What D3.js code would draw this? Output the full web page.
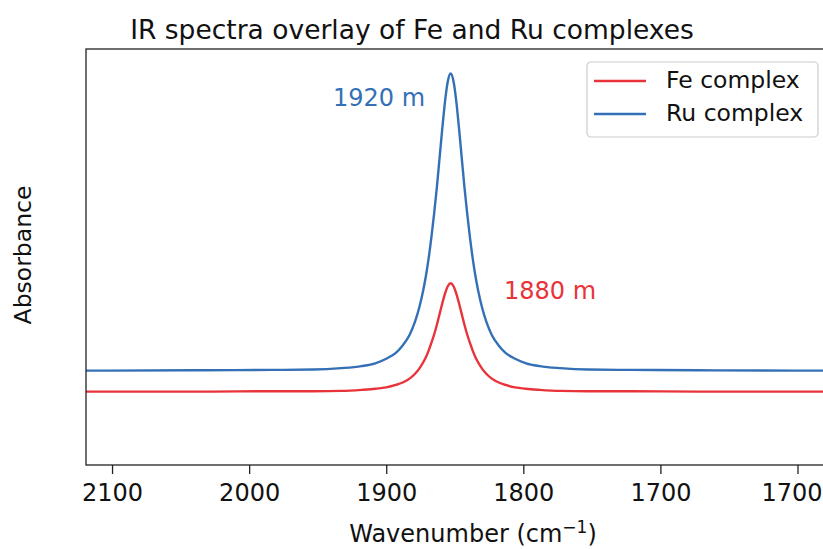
<!DOCTYPE html>
<html>
<head>
<meta charset="utf-8">
<script src="https://cdn.jsdelivr.net/npm/d3@7"></script>
<style>
  body { margin: 0; background: #fff; }
  text { font-family: "DejaVu Sans", sans-serif; }
</style>
</head>
<body>
<div id="chart"></div>
<script>
const width = 823;
const height = 549;
const margin = { top: 49, right: -17, bottom: 84, left: 86 };

// wavenumbers (cm-1)
const wavenumbers = [2125, 2103, 2033, 1983, 1953, 1933, 1918, 1908, 1900, 1893, 1888, 1883, 1879, 1876,
  1873, 1871, 1869, 1867, 1865, 1863, 1861, 1859, 1857, 1855, 1853, 1851, 1849, 1847, 1845, 1843, 1841,
  1839, 1837, 1835, 1833, 1830, 1827, 1823, 1818, 1813, 1806, 1798, 1788, 1773, 1753, 1723, 1673, 1603, 1560];
const feValues = [0, 0, 0.000, 0.001, 0.001, 0.002, 0.005, 0.008, 0.012, 0.019, 0.026, 0.037, 0.051, 0.065,
  0.084, 0.099, 0.118, 0.140, 0.164, 0.192, 0.223, 0.254, 0.282, 0.302, 0.310, 0.302, 0.282, 0.254, 0.223, 0.192, 0.164,
  0.140, 0.118, 0.099, 0.084, 0.065, 0.051, 0.037, 0.026, 0.019, 0.012, 0.008, 0.005, 0.002, 0.001, 0.001, 0.000, 0, 0];
const ruValues = [0.060, 0.060, 0.061, 0.062, 0.063, 0.067, 0.073, 0.081, 0.094, 0.111, 0.132, 0.162, 0.200, 0.239,
  0.290, 0.332, 0.383, 0.443, 0.511, 0.587, 0.672, 0.757, 0.834, 0.889, 0.910, 0.889, 0.834, 0.757, 0.672, 0.587, 0.511,
  0.443, 0.383, 0.332, 0.290, 0.239, 0.200, 0.162, 0.132, 0.111, 0.094, 0.081, 0.073, 0.067, 0.063, 0.062, 0.061, 0.060, 0.060];

const tickValues = [2100, 2000, 1900, 1800, 1700, 1600];
const tickLabels = ["2100", "2000", "1900", "1800", "1700", "1700"];

const series = [
  { name: "Fe complex", values: feValues, color: "#e8333b" },
  { name: "Ru complex", values: ruValues, color: "#3470b6" },
];

const svg = d3
  .select("#chart")
  .append("svg")
  .attr("width", width)
  .attr("height", height);

let x = d3
  .scaleLinear()
  .domain([2119, 1569])
  .range([margin.left, width - margin.right]);

let y = d3
  .scaleLinear()
  .domain([-0.21, 0.98])
  .range([height - margin.bottom, margin.top]);

// clip so lines stop at the axes
svg.append("clipPath").attr("id", "clip")
  .append("rect")
  .attr("x", margin.left)
  .attr("y", margin.top)
  .attr("width", width - margin.right - margin.left)
  .attr("height", height - margin.bottom - margin.top);

let line = d3
  .line()
  .x((d) => x(d.wn))
  .y((d) => y(d.v))
  .curve(d3.curveMonotoneX);

for (let s of series) {
  const pts = wavenumbers.map((wn, i) => ({ wn: wn, v: s.values[i] }));
  svg.append("path")
    .datum(pts)
    .attr("clip-path", "url(#clip)")
    .attr("fill", "none")
    .attr("stroke", s.color)
    .attr("stroke-width", 2.4)
    .attr("stroke-linejoin", "round")
    .attr("d", line);
}

// spines
svg.append("rect")
  .attr("x", margin.left)
  .attr("y", margin.top)
  .attr("width", width - margin.right - margin.left)
  .attr("height", height - margin.bottom - margin.top)
  .attr("fill", "none")
  .attr("stroke", "#222")
  .attr("stroke-width", 1.3);

// x axis
const xAxis = svg
  .append("g")
  .attr("transform", `translate(0,${height - margin.bottom})`)
  .call(
    d3.axisBottom(x)
      .tickValues(tickValues)
      .tickFormat((d, i) => tickLabels[i])
      .tickSize(9)
      .tickPadding(10)
  );
xAxis.select(".domain").remove();
xAxis.selectAll(".tick line").attr("stroke", "#222").attr("stroke-width", 1.3);
xAxis.selectAll(".tick text")
  .attr("fill", "#111")
  .style("font-size", "24px")
  .style("font-family", "DejaVu Sans, sans-serif");
// last label sits at the right edge of the picture
xAxis.selectAll(".tick text")
  .filter((d, i) => i === tickValues.length - 1)
  .attr("text-anchor", "end")
  .attr("x", width - 1 - x(tickValues[tickValues.length - 1]));

// title
svg.append("text")
  .attr("x", 412)
  .attr("y", 39)
  .attr("text-anchor", "middle")
  .attr("fill", "#111")
  .style("font-size", "26.5px")
  .text("IR spectra overlay of Fe and Ru complexes");

// x label
const xl = svg.append("text")
  .attr("x", 473)
  .attr("y", 542)
  .attr("text-anchor", "middle")
  .attr("fill", "#111")
  .style("font-size", "24px");
xl.append("tspan").text("Wavenumber (cm");
xl.append("tspan").attr("dy", -9).style("font-size", "17px").text("\u22121");
xl.append("tspan").attr("dy", 9).text(")");

// y label
svg.append("text")
  .attr("transform", `translate(31,${(margin.top + height - margin.bottom) / 2 - 2}) rotate(-90)`)
  .attr("text-anchor", "middle")
  .attr("fill", "#111")
  .style("font-size", "23.5px")
  .text("Absorbance");

// peak annotations
svg.append("text")
  .attr("x", 333)
  .attr("y", 106)
  .attr("fill", series[1].color)
  .style("font-size", "24px")
  .text("1920 m");

svg.append("text")
  .attr("x", 504)
  .attr("y", 299)
  .attr("fill", series[0].color)
  .style("font-size", "24px")
  .text("1880 m");

// legend
const legend = svg.append("g").attr("transform", "translate(587,62)");
legend.append("rect")
  .attr("width", 231)
  .attr("height", 75)
  .attr("rx", 4)
  .attr("fill", "#fff")
  .attr("fill-opacity", 0.85)
  .attr("stroke", "#ccc")
  .attr("stroke-width", 1.2);

series.forEach((s, i) => {
  const ly = 19 + i * 33;
  legend.append("line")
    .attr("x1", 7)
    .attr("x2", 59)
    .attr("y1", ly)
    .attr("y2", ly)
    .attr("stroke", s.color)
    .attr("stroke-width", 2.4);
  legend.append("text")
    .attr("x", 79)
    .attr("y", ly)
    .attr("dominant-baseline", "middle")
    .attr("fill", "#111")
    .style("font-size", "23.5px")
    .text(s.name);
});
</script>
</body>
</html>
